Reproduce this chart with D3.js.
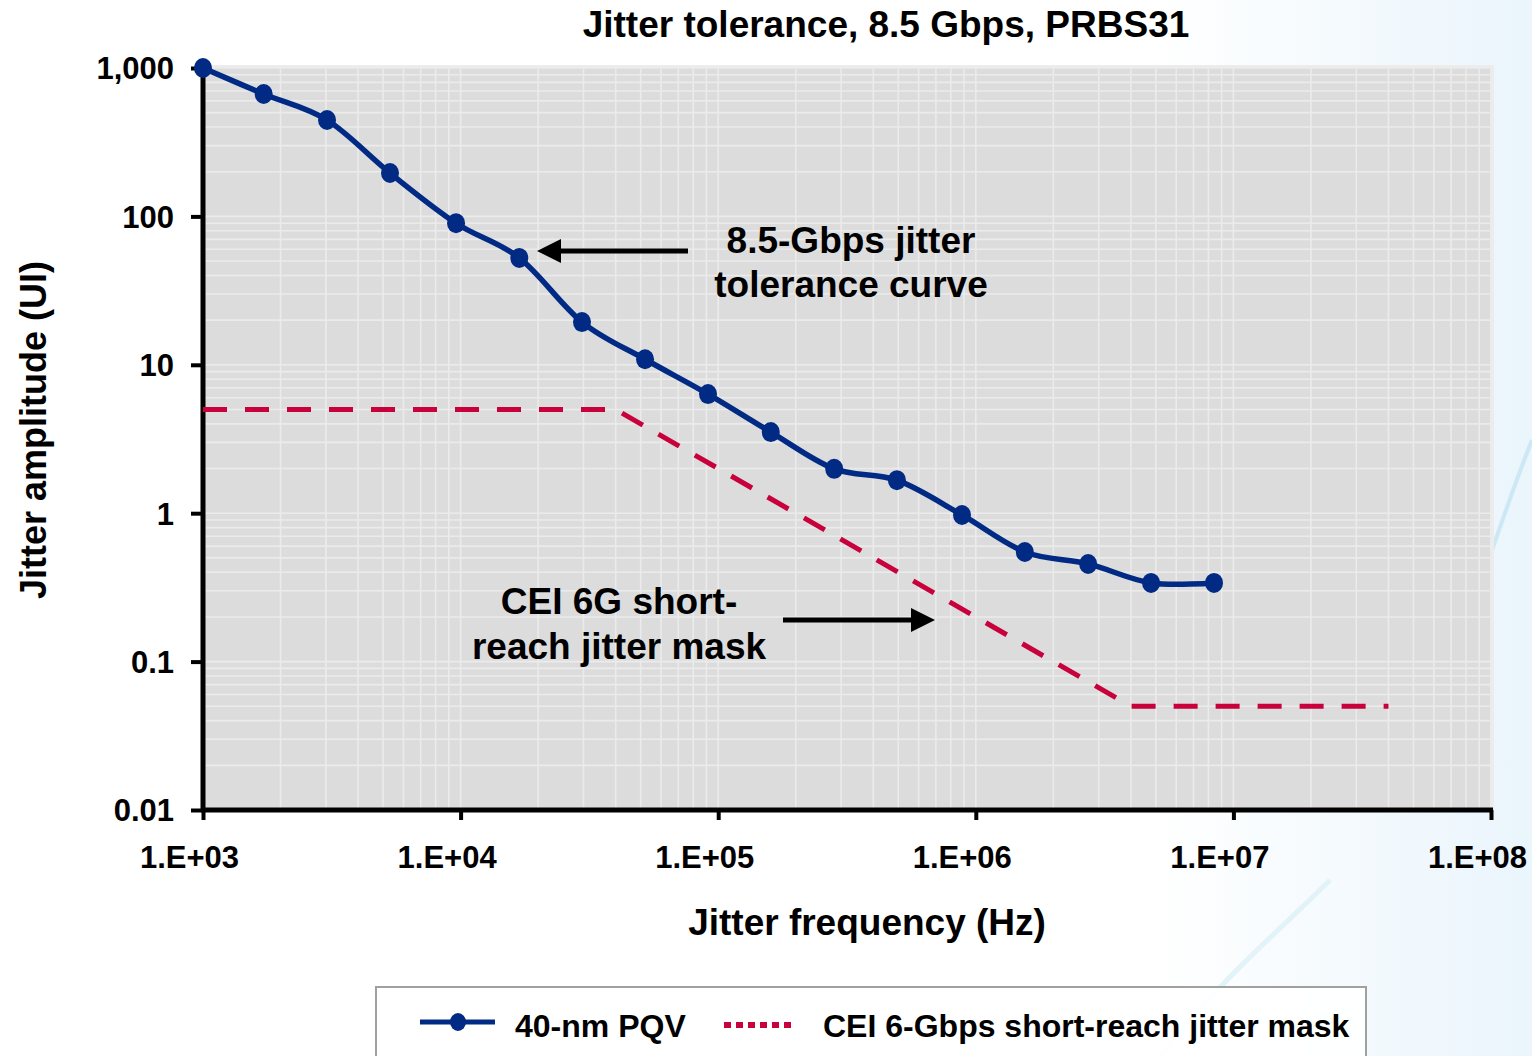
<!DOCTYPE html>
<html><head><meta charset="utf-8">
<script src="https://cdn.jsdelivr.net/npm/d3@7"></script>
<style>
html,body{margin:0;padding:0;background:#fff;}
svg{display:block;}
text{font-family:"Liberation Sans",Arial,sans-serif;font-weight:bold;fill:#000;}
</style></head>
<body>
<svg id="c" width="1532" height="1056"></svg>
<script>
// ---- data ----
const title = "Jitter tolerance, 8.5 Gbps, PRBS31";
const xLabel = "Jitter frequency (Hz)";
const yLabel = "Jitter amplitude (UI)";
const xTicks = [1e3, 1e4, 1e5, 1e6, 1e7, 1e8];
const xTickLabels = ["1.E+03", "1.E+04", "1.E+05", "1.E+06", "1.E+07", "1.E+08"];
const yTicks = [0.01, 0.1, 1, 10, 100, 1000];
const yTickLabels = ["0.01", "0.1", "1", "10", "100", "1,000"];
const pqvFreq = [1000, 1720, 3030, 5320, 9600, 16900, 29600, 52000, 91300, 160000, 282000, 494000, 884000, 1550000, 2730000, 4790000, 8410000];
const pqvAmp = [1000, 668, 446, 196, 90, 52.5, 19.4, 10.9, 6.35, 3.52, 1.99, 1.67, 0.973, 0.548, 0.455, 0.339, 0.339];
const maskFreq = [1000, 40000, 4000000, 40000000];
const maskAmp = [5, 5, 0.05, 0.05];
const seriesNames = ["40-nm PQV", "CEI 6-Gbps short-reach jitter mask"];
const annot1 = ["8.5-Gbps jitter", "tolerance curve"];
const annot2 = ["CEI 6G short-", "reach jitter mask"];

const svg = d3.select("#c");
const W = 1532, H = 1056;
const m = {l: 203, r: 1491, t: 68, b: 810};
const blue = "#002a84", red = "#c8003c";

// background decoration
const defs = svg.append("defs");
const g1 = defs.append("linearGradient").attr("id","bg").attr("x1","0").attr("x2","1").attr("y1","0").attr("y2","0");
g1.append("stop").attr("offset","0.75").attr("stop-color","#ffffff");
g1.append("stop").attr("offset","1").attr("stop-color","#eaf5fc");
svg.append("rect").attr("width",W).attr("height",H).attr("fill","url(#bg)");
svg.append("path").attr("d","M1532,440 C1500,520 1470,620 1440,700").attr("fill","none").attr("stroke","#c4e5f3").attr("stroke-width",4).attr("opacity",0.8);
svg.append("path").attr("d","M1160,1056 C1220,980 1280,930 1330,880").attr("fill","none").attr("stroke","#dcf0f8").attr("stroke-width",5).attr("opacity",0.8);

const x = d3.scaleLog().domain([1e3, 1e8]).range([m.l, m.r]);
const y = d3.scaleLog().domain([0.01, 1000]).range([m.b, m.t]);

// plot area
svg.append("rect").attr("x", m.l).attr("y", m.t - 3).attr("width", m.r - m.l + 3).attr("height", m.b - m.t + 3).attr("fill","#ececec");
svg.append("rect").attr("x", m.l).attr("y", m.t).attr("width", m.r - m.l - 1).attr("height", m.b - m.t).attr("fill","#dcdcdc");

// gridlines
const xg = [], yg = [];
for (let e = 3; e < 8; e++) for (let k = 1; k <= 9; k++) xg.push(k * Math.pow(10, e));
xg.push(1e8);
for (let e = -2; e < 3; e++) for (let k = 1; k <= 9; k++) yg.push(k * Math.pow(10, e));
yg.push(1000);
const grid = svg.append("g").attr("stroke","#ebebeb").attr("stroke-width",1.6);
grid.selectAll("line.v").data(xg).join("line").attr("class","v")
  .attr("x1", d => x(d)).attr("x2", d => x(d)).attr("y1", m.t).attr("y2", m.b);
grid.selectAll("line.h").data(yg).join("line").attr("class","h")
  .attr("x1", m.l).attr("x2", m.r - 1).attr("y1", d => y(d)).attr("y2", d => y(d));

// axes
const yAxis = d3.axisLeft(y).tickValues(yTicks).tickFormat((d, i) => yTickLabels[i]).tickSize(12).tickPadding(17);
const ya = svg.append("g").attr("transform", `translate(${m.l},0)`).call(yAxis);
ya.select(".domain").remove();
ya.selectAll(".tick line").attr("stroke","#000").attr("stroke-width",4);
ya.selectAll(".tick text").style("font-size","31px").attr("dy","0.35em").attr("fill","#000");

const xAxis = d3.axisBottom(x).tickValues(xTicks).tickFormat((d, i) => xTickLabels[i]).tickSize(10).tickPadding(20);
const xa = svg.append("g").attr("transform", `translate(0,${m.b})`).call(xAxis);
xa.select(".domain").remove();
xa.selectAll(".tick line").attr("stroke","#000").attr("stroke-width",4);
xa.selectAll(".tick text").style("font-size","31px").attr("dx","-14").attr("dy","0.9em").attr("fill","#000");

svg.append("line").attr("x1", m.l).attr("x2", m.l).attr("y1", m.t - 2).attr("y2", m.b + 2).attr("stroke","#000").attr("stroke-width",5);
svg.append("line").attr("x1", m.l - 2).attr("x2", m.r + 2).attr("y1", m.b).attr("y2", m.b).attr("stroke","#000").attr("stroke-width",5);

// mask
const mask = maskFreq.map((f, i) => [f, maskAmp[i]]);
svg.append("path").datum(mask)
  .attr("d", d3.line().x(d => x(d[0])).y(d => y(d[1])))
  .attr("fill","none").attr("stroke", red).attr("stroke-width",5).attr("stroke-dasharray","24,18");

// pqv
const pqv = pqvFreq.map((f, i) => [f, pqvAmp[i]]);
svg.append("path").datum(pqv)
  .attr("d", d3.line().x(d => x(d[0])).y(d => y(d[1])).curve(d3.curveCardinal.tension(0)))
  .attr("fill","none").attr("stroke", blue).attr("stroke-width",5.5).attr("stroke-linejoin","round");
svg.selectAll("ellipse.pt").data(pqv).join("ellipse").attr("class","pt")
  .attr("cx", d => x(d[0])).attr("cy", d => y(d[1])).attr("rx",9).attr("ry",10).attr("fill", blue);

// title & labels
svg.append("text").attr("x", 886).attr("y", 37).attr("text-anchor","middle").style("font-size","37px").text(title);
svg.append("text").attr("x", 867).attr("y", 935).attr("text-anchor","middle").style("font-size","37px").text(xLabel);
svg.append("text").attr("transform","translate(46,430) rotate(-90)").attr("text-anchor","middle").style("font-size","36px").text(yLabel);

// annotations
const a1 = svg.append("text").attr("text-anchor","middle").style("font-size","37px");
a1.selectAll("tspan").data(annot1).join("tspan").attr("x", 851).attr("y", (d, i) => 253 + i * 44).text(d => d);
const a2 = svg.append("text").attr("text-anchor","middle").style("font-size","37px");
a2.selectAll("tspan").data(annot2).join("tspan").attr("x", 619).attr("y", (d, i) => 614 + i * 45).text(d => d);

function arrow(x1, x2, yy) {
  const dir = Math.sign(x2 - x1);
  svg.append("line").attr("x1", x1).attr("x2", x2 - dir * 20).attr("y1", yy).attr("y2", yy).attr("stroke","#000").attr("stroke-width",5);
  svg.append("path").attr("d", `M${x2},${yy} L${x2 - dir * 24},${yy - 12} L${x2 - dir * 24},${yy + 12} Z`).attr("fill","#000");
}
arrow(688, 537, 251);
arrow(783, 935, 620);

// legend
svg.append("rect").attr("x", 376).attr("y", 987).attr("width", 990).attr("height", 90).attr("fill","#fff").attr("fill-opacity",0.9).attr("stroke","#a0a0a0").attr("stroke-width",2);
svg.append("line").attr("x1", 420).attr("x2", 495).attr("y1", 1022).attr("y2", 1022).attr("stroke", blue).attr("stroke-width",5);
svg.append("ellipse").attr("cx", 458).attr("cy", 1022).attr("rx",8).attr("ry",9).attr("fill", blue);
svg.append("text").attr("x", 515).attr("y", 1037).style("font-size","32px").text(seriesNames[0]);
svg.append("line").attr("x1", 724).attr("x2", 796).attr("y1", 1025).attr("y2", 1025).attr("stroke", red).attr("stroke-width",6).attr("stroke-dasharray","7,5");
svg.append("text").attr("x", 823).attr("y", 1037).style("font-size","32px").text(seriesNames[1]);
</script>
</body></html>
